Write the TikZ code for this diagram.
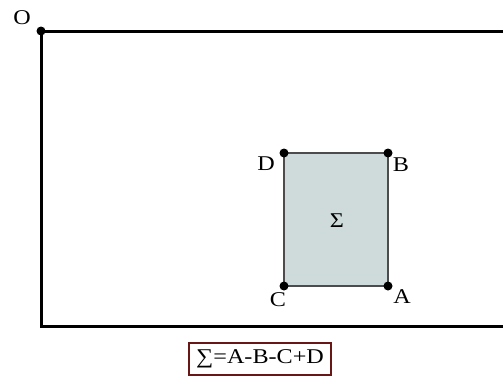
\documentclass[tikz,border=0pt]{standalone}
\usepackage{fontspec}
\setmainfont[FakeStretch=1.15]{Liberation Serif}
\usetikzlibrary{positioning}
\definecolor{regfill}{RGB}{207,219,219}
\definecolor{boxred}{RGB}{105,22,22}

\begin{document}
\begin{tikzpicture}[x=1pt, y=-1pt, every node/.style={font=\fontsize{21}{23}\selectfont},
    dot/.style={circle, fill=black, inner sep=0pt, minimum size=9pt}]
    \useasboundingbox (0,0) rectangle (503,380);

    % Frame with origin
    \coordinate (O) at (41,31);
    \coordinate (TR) at (503,31);
    \coordinate (BL) at (41,326);
    \coordinate (BR) at (503,326);
    \draw[line width=3pt] (TR) -- (O) -- (BL) -- (BR);
    \node[dot] (Odot) at (O) {};
    \node (Olbl) at (22,18) {O};

    % Region
    \coordinate (D) at (284,153);
    \coordinate (B) at (388,153);
    \coordinate (C) at (284,286);
    \coordinate (A) at (388,286);
    \draw[fill=regfill, draw=black!70, line width=1.3pt] (D) -- (B) -- (A) -- (C) -- cycle;
    \node (sig) at (337,221) {Σ};

    % Corners
    \foreach \p in {A,B,C,D} \node[dot] (\p dot) at (\p) {};
    \node (Dlbl) at (266,164) {D};
    \node (Blbl) at (401,165) {B};
    \node (Clbl) at (278,300) {C};
    \node (Albl) at (402,297) {A};

    % Formula
    \node[draw=boxred, line width=2.5pt, minimum width=142pt, minimum height=32pt, inner sep=0pt] (rule) at (260,359) {∑=A-B-C+D};
\end{tikzpicture}
\end{document}
